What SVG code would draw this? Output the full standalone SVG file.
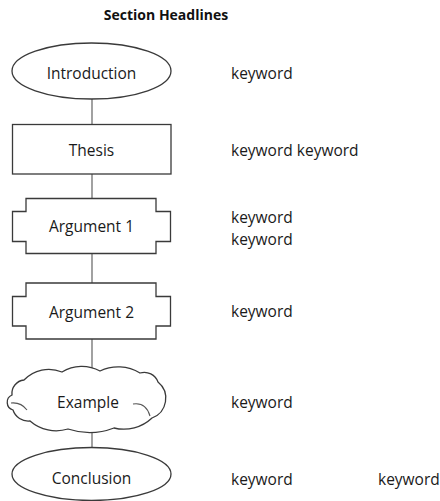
<svg xmlns="http://www.w3.org/2000/svg" width="440" height="501" viewBox="0 0 440 501">
  <style>
    .shape { fill: #ffffff; stroke: #3a3a3a; stroke-width: 1.3; }
    .link { stroke: #555555; stroke-width: 1.1; fill: none; }
    .label { font-family: "Open Sans", "Liberation Sans", sans-serif; font-size: 15.5px; fill: #1a1a1a; }
    .center { text-anchor: middle; }
    .title { font-family: "Open Sans", "Liberation Sans", sans-serif; font-size: 14px; font-weight: bold; fill: #111111; }
  </style>

  <rect width="440" height="501" fill="#ffffff"/>

  <text class="title" x="166" y="20" text-anchor="middle">Section Headlines</text>

  <!-- vertical connectors between the stacked sections -->
  <g id="connectors">
    <line class="link" x1="92" y1="99" x2="92" y2="124.5"/>
    <line class="link" x1="92" y1="174" x2="92" y2="198.5"/>
    <line class="link" x1="92" y1="253.5" x2="92" y2="283"/>
    <line class="link" x1="92" y1="339" x2="92" y2="371"/>
    <line class="link" x1="92" y1="430" x2="92" y2="448"/>
  </g>

  <g id="introduction">
    <ellipse class="shape" cx="91.5" cy="71" rx="79.5" ry="28"/>
    <text class="label center" x="91.5" y="79">Introduction</text>
  </g>

  <g id="thesis">
    <rect class="shape" x="12.5" y="124.5" width="158.5" height="49.5"/>
    <text class="label center" x="91.5" y="156">Thesis</text>
  </g>

  <g id="argument1">
    <path class="shape" d="M26,198.5 H156 V211.5 H170.5 V241.5 H156 V253.5 H26 V241.5 H12.5 V211.5 H26 Z"/>
    <text class="label center" x="91.5" y="232">Argument 1</text>
  </g>

  <g id="argument2">
    <path class="shape" d="M26,283 H156 V296.5 H170.5 V326 H156 V339 H26 V326 H12.5 V296.5 H26 Z"/>
    <text class="label center" x="91.5" y="318">Argument 2</text>
  </g>

  <g id="example">
    <path class="shape" d="M13,410
      A8,8 0 0 1 12,395
      A13.5,13.5 0 0 1 24,380
      A34,34 0 0 1 62,372
      A38,38 0 0 1 100,371
      A42,42 0 0 1 140,373
      A14.5,14.5 0 0 1 158,382
      A21,21 0 0 1 152,418
      A41,41 0 0 1 114,428
      A68,68 0 0 1 68,429
      A40,40 0 0 1 30,421
      A16,16 0 0 1 13,410 Z"/>
    <path class="link" d="M11,403 Q21,402 27,410"/>
    <path class="link" d="M133,404 Q146,402 150,416"/>
    <text class="label center" x="88" y="408">Example</text>
  </g>

  <g id="conclusion">
    <ellipse class="shape" cx="91.5" cy="474" rx="79.5" ry="26.5"/>
    <text class="label center" x="91.5" y="484">Conclusion</text>
  </g>

  <g id="keywords">
    <text class="label" x="231" y="79">keyword</text>
    <text class="label" x="231" y="156">keyword keyword</text>
    <text class="label" x="231" y="223">keyword</text>
    <text class="label" x="231" y="244.5">keyword</text>
    <text class="label" x="231" y="317">keyword</text>
    <text class="label" x="231" y="408">keyword</text>
    <text class="label" x="231" y="485">keyword</text>
    <text class="label" x="378" y="485">keyword</text>
  </g>
</svg>
